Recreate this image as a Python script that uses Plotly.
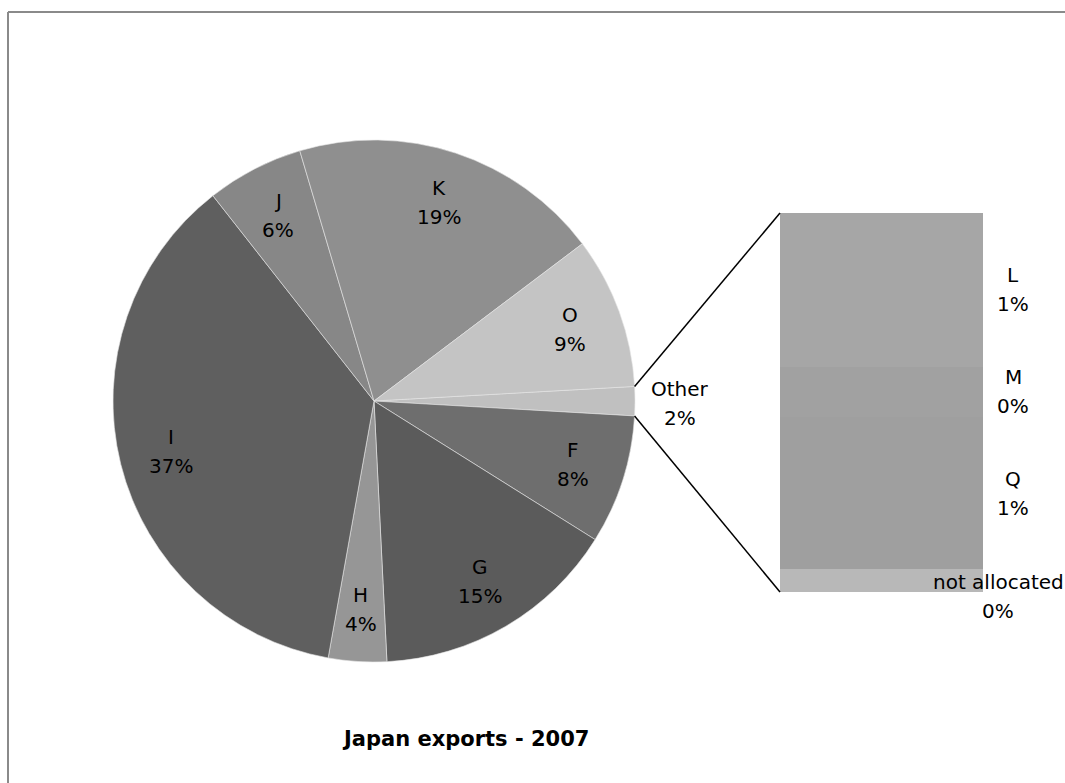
import math
import plotly.graph_objects as go

# Japan exports 2007 — share by sector (%)
main_labels = ["F", "G", "H", "I", "J", "K", "O"]
main_values = [8.0, 15.3, 3.6, 36.6, 6.0, 19.3, 9.4]
main_colors = ["#6e6e6e", "#5b5b5b", "#969696", "#5f5f5f", "#878787", "#8f8f8f", "#c4c4c4"]

# breakdown of the small sectors grouped as "Other"
sub_labels = ["L", "M", "Q", "not allocated"]
sub_values = [0.73, 0.24, 0.72, 0.11]
sub_colors = ["#a6a6a6", "#a1a1a1", "#9f9f9f", "#b8b8b8"]

other_label = "Other"
other_color = "#c0c0c0"
title_text = "Japan exports - 2007"

W, H = 1065, 783
other_value = sum(sub_values)
pie_labels = [other_label] + main_labels
pie_values = [other_value] + main_values
pie_colors = [other_color] + main_colors
total = sum(pie_values)

# pie geometry in pixels
cx, cy, r = 374, 401, 261
rotation = 86.8  # first slice (Other) starts just above 3 o'clock
line_gap = 29    # distance between the name line and the percent line


def px(x):
    return x / W


def py(y):
    return 1 - y / H


def pct_text(v):
    return f"{int(v / total * 100 + 0.5)}%"


fig = go.Figure()
fig.add_trace(go.Pie(
    labels=pie_labels, values=pie_values, sort=False, direction="clockwise",
    rotation=rotation, textinfo="none", hoverinfo="label+percent",
    marker=dict(colors=pie_colors, line=dict(color="#e6e6e6", width=0.6)),
    domain=dict(x=[px(cx - r), px(cx + r)], y=[py(cy + r), py(cy - r)]),
    showlegend=False,
))

# stacked bar for the "Other" breakdown (bottom to top: not allocated, Q, M, L)
bar_left, bar_right, bar_top, bar_bottom = 780, 983, 213, 592
for lab, val, col in reversed(list(zip(sub_labels, sub_values, sub_colors))):
    fig.add_trace(go.Bar(
        x=[0], y=[val], width=[1], name=lab, marker=dict(color=col, line=dict(width=0)),
        xaxis="x", yaxis="y", showlegend=False, hoverinfo="name+y",
    ))

fig.update_layout(
    barmode="stack",
    xaxis=dict(domain=[px(bar_left), px(bar_right)], range=[-0.5, 0.5], visible=False, fixedrange=True),
    yaxis=dict(domain=[py(bar_bottom), py(bar_top)], range=[0, other_value], visible=False, fixedrange=True),
)

font_lbl = dict(family="DejaVu Sans", size=20, color="#000000")
annotations = []


def two_line(x, y, name, pct, yref="paper", yshift=0):
    # name above, percentage below, centred on (x, y)
    for txt, dy in ((name, line_gap / 2), (pct, -line_gap / 2)):
        annotations.append(dict(x=x, y=y, xref="paper", yref=yref, text=txt,
                                showarrow=False, xanchor="center", yanchor="middle",
                                yshift=dy + yshift, font=font_lbl, align="center"))


# slice labels placed along each slice's mid-angle
start_deg = 90 - rotation
cum = 0.0
for lab, val in zip(pie_labels, pie_values):
    mid = start_deg - 360 * (cum + val / 2) / total
    cum += val
    a = math.radians(mid)
    if lab == other_label:
        # small slice: label just outside the rim
        x = cx + (r + 45) * math.cos(a)
        y = cy - (r + 45) * math.sin(a) + 2
    else:
        x = cx + 0.8 * r * math.cos(a)
        y = cy - 0.8 * r * math.sin(a)
    two_line(px(x), py(y), lab, pct_text(val))

# bar segment labels, to the right of the bar
base = 0.0
for lab, val in reversed(list(zip(sub_labels, sub_values))):
    mid = base + val / 2
    base += val
    if lab == "not allocated":
        two_line(px(998), mid, lab, pct_text(val), yref="y", yshift=-16)
    else:
        two_line(px(1013), mid, lab, pct_text(val), yref="y")

annotations.append(dict(x=px(340), y=py(739), xref="paper", yref="paper", text=f"<b>{title_text}</b>",
                        showarrow=False, xanchor="left", yanchor="middle",
                        font=dict(family="DejaVu Sans", size=21, color="#000000")))

# connector lines from the Other slice edges to the bar corners
a1 = math.radians(start_deg)
a2 = math.radians(start_deg - 360 * other_value / total)
frame = dict(color="#8a8a8a", width=2)
shapes = [
    dict(type="line", xref="paper", yref="paper",
         x0=px(cx + r * math.cos(a1)), y0=py(cy - r * math.sin(a1)),
         x1=px(bar_left), y1=py(bar_top), line=dict(color="#000000", width=1.5)),
    dict(type="line", xref="paper", yref="paper",
         x0=px(cx + r * math.cos(a2)), y0=py(cy - r * math.sin(a2)),
         x1=px(bar_left), y1=py(bar_bottom), line=dict(color="#000000", width=1.5)),
    # chart area border (top and left edges)
    dict(type="line", xref="paper", yref="paper", x0=px(8), y0=py(12), x1=1, y1=py(12), line=frame),
    dict(type="line", xref="paper", yref="paper", x0=px(8), y0=py(12), x1=px(8), y1=0, line=frame),
]

fig.update_layout(
    width=W, height=H, margin=dict(l=0, r=0, t=0, b=0),
    paper_bgcolor="#ffffff", plot_bgcolor="#ffffff",
    annotations=annotations, shapes=shapes,
)

fig.write_html("out.html")
